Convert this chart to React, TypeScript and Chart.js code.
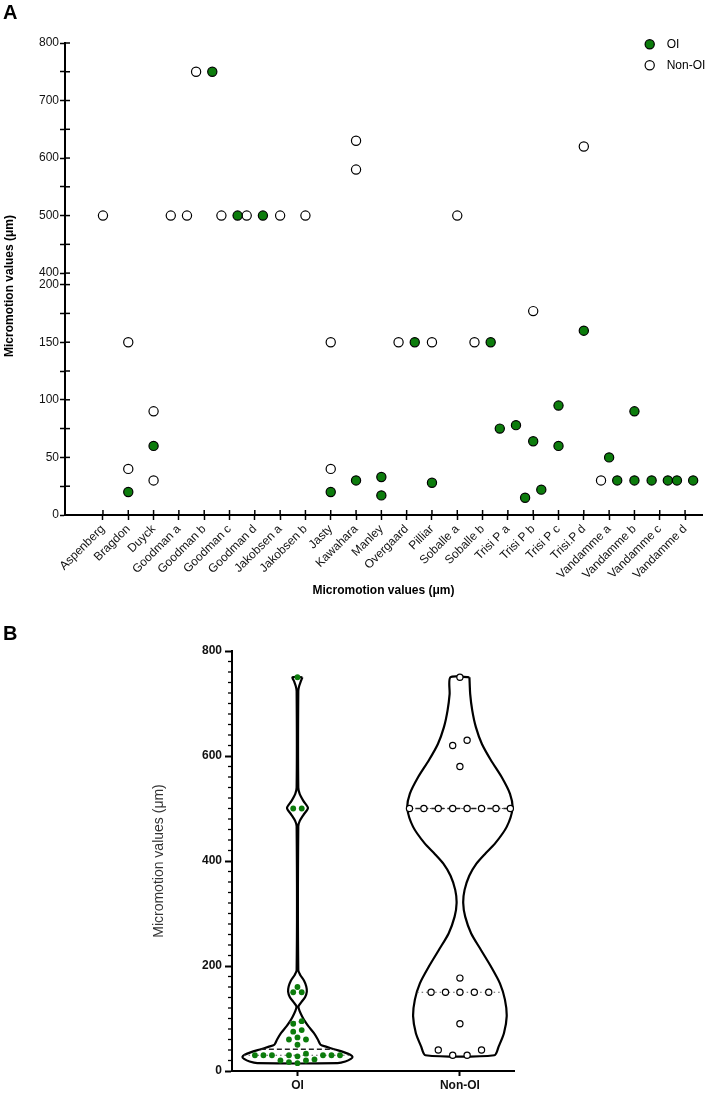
import React, { useEffect, useRef } from 'react';
import { Chart, registerables } from 'chart.js';

Chart.register(...registerables);

const FONT = "'Liberation Sans', Arial, Helvetica, sans-serif";
Chart.defaults.font.family = FONT;

const GREEN = '#0c7c0c';

// ---------------- Panel A data ----------------
const categories = [
  'Aspenberg', 'Bragdon', 'Duyck', 'Goodman a', 'Goodman b', 'Goodman c', 'Goodman d',
  'Jakobsen a', 'Jakobsen b', 'Jasty', 'Kawahara', 'Manley', 'Overgaard', 'Pilliar',
  'Soballe a', 'Soballe b', 'Trisi P a', 'Trisi P b', 'Trisi P c', 'Trisi.P d',
  'Vandamme a', 'Vandamme b', 'Vandamme c', 'Vandamme d',
];

const oiValues: number[][] = [
  [], [20], [60], [], [750], [500], [500],
  [], [], [20], [30], [33, 17], [150], [28],
  [], [150], [75, 78], [64, 15, 22], [95, 60], [160],
  [50, 30], [90, 30], [30, 30], [30, 30],
];

const nonOiValues: number[][] = [
  [500], [150, 40], [90, 30], [500, 500], [750], [500], [500],
  [500], [500], [150, 40], [630, 580], [], [150], [150],
  [500], [150], [], [177], [], [620],
  [30], [], [], [],
];

const lowAxisTicks = [0, 25, 50, 75, 100, 125, 150, 175, 200];
const lowAxisLabels = ['0', '', '50', '', '100', '', '150', '', '200'];
const highAxisTicks = [400, 450, 500, 550, 600, 650, 700, 750, 800];
const highAxisLabels = ['400', '', '500', '', '600', '', '700', '', '800'];

// ---------------- Panel B data ----------------
const groupLabels = ['OI', 'Non-OI'];
const violinLabelTicks = [0, 200, 400, 600, 800];

// [value, relative half-width]
const oiViolinProfile: [number, number][] = [
  [750, 0.09], [742, 0.06], [733, 0.03], [724, 0.015], [540, 0.015], [528, 0.04],
  [514, 0.11], [501, 0.19], [488, 0.11], [476, 0.04], [466, 0.015], [192, 0.015],
  [183, 0.05], [172, 0.12], [161, 0.16], [151, 0.17], [141, 0.14], [131, 0.07],
  [123, 0.018], [114, 0.04], [104, 0.085], [94, 0.14], [85, 0.2], [72, 0.3],
  [60, 0.37], [50, 0.42], [46, 0.53], [41, 0.68], [36, 0.84], [31, 0.96],
  [27, 1.0], [23, 0.97], [18, 0.87], [15, 0.73],
];

const nonOiViolinProfile: [number, number][] = [
  [750, 0.173], [718, 0.187], [687, 0.224], [655, 0.29], [623, 0.4], [592, 0.564],
  [560, 0.758], [528, 0.91], [500, 0.955], [465, 0.85], [433, 0.636], [414, 0.46],
  [395, 0.3], [372, 0.17], [345, 0.085], [320, 0.06], [294, 0.096], [262, 0.205],
  [231, 0.38], [199, 0.564], [167, 0.727], [136, 0.818], [104, 0.85], [72, 0.8],
  [47, 0.705], [30, 0.627],
];

// ---------------- layout constants ----------------
const A_W = 708;
const A_H = 605;
const B_TOP = 620;
const B_H = 477;
const JITTER = 0.32;
const B_X_PX = 162.3; // px per x unit in panel B
const B_Y_PX = 0.526; // px per value unit in panel B
const VIOLIN_HALF = 55 / B_X_PX;

// ---------- helpers ----------
function pxA(v: number) {
  return v >= 300 ? 230.3 + (v - 380) * 0.575 : v * 1.1515;
}

function buildPanelAPoints() {
  const oiLow: any[] = [], oiHigh: any[] = [], nonLow: any[] = [], nonHigh: any[] = [];
  categories.forEach((_, i) => {
    const items = [
      ...nonOiValues[i].map((v) => ({ v, s: 'non' })),
      ...oiValues[i].map((v) => ({ v, s: 'oi' })),
    ];
    const clusters: { v: number; s: string }[][] = [];
    items.forEach((it) => {
      const c = clusters.find((cl) => cl.some((m) => Math.abs(pxA(m.v) - pxA(it.v)) < 10));
      if (c) c.push(it);
      else clusters.push([it]);
    });
    clusters.forEach((cl) => {
      const n = cl.length;
      cl.forEach((it, k) => {
        const off = n === 1 ? 0 : -JITTER + (k * 2 * JITTER) / (n - 1);
        const p = { x: i + off, y: it.v };
        if (it.s === 'oi') (it.v >= 300 ? oiHigh : oiLow).push(p);
        else (it.v >= 300 ? nonHigh : nonLow).push(p);
      });
    });
  });
  return { oiLow, oiHigh, nonLow, nonHigh };
}

function beeswarm(values: number[], binSize: number, slotPx: number, minDistPx: number) {
  const sorted = [...values].sort((a, b) => a - b);
  const bins: number[][] = [];
  for (const v of sorted) {
    const last = bins[bins.length - 1];
    if (last && v - last[0] <= binSize) last.push(v);
    else bins.push([v]);
  }
  const placed: { dx: number; dy: number; v: number }[] = [];
  for (const bin of bins) {
    const n = bin.length;
    const cands: number[] = [];
    if (n % 2 === 1) {
      cands.push(0);
      for (let k = 1; k < 40; k++) cands.push(-k * slotPx, k * slotPx);
    } else {
      for (let k = 0; k < 40; k++) cands.push(-(k + 0.5) * slotPx, (k + 0.5) * slotPx);
    }
    for (const v of bin) {
      const dy = v * B_Y_PX;
      for (const dx of cands) {
        if (placed.every((p) => Math.hypot(p.dx - dx, p.dy - dy) >= minDistPx)) {
          placed.push({ dx, dy, v });
          break;
        }
      }
    }
  }
  return placed;
}

function quantile(values: number[], p: number) {
  const s = [...values].sort((a, b) => a - b);
  const n = s.length;
  const pos = (n + 1) * p;
  const lo = Math.floor(pos);
  const frac = pos - lo;
  if (lo < 1) return s[0];
  if (lo >= n) return s[n - 1];
  return s[lo - 1] + frac * (s[lo] - s[lo - 1]);
}

function widthAt(profile: [number, number][], v: number) {
  const s = [...profile].sort((a, b) => a[0] - b[0]);
  if (v <= s[0][0]) return s[0][1];
  for (let i = 1; i < s.length; i++) {
    if (v <= s[i][0]) {
      const t = (v - s[i - 1][0]) / (s[i][0] - s[i - 1][0]);
      return s[i - 1][1] + t * (s[i][1] - s[i - 1][1]);
    }
  }
  return s[s.length - 1][1];
}

function violinOutline(center: number, profile: [number, number][]) {
  const sorted = [...profile].sort((a, b) => b[0] - a[0]);
  const right = sorted.map(([v, w]) => ({ x: center + w * VIOLIN_HALF, y: v }));
  const left = [...sorted].reverse().map(([v, w]) => ({ x: center - w * VIOLIN_HALF, y: v }));
  return [...right, ...left, right[0]];
}

// ---------------- Panel A ----------------
const panelAExtras = {
  id: 'panelAExtras',
  afterDraw(chart: any) {
    const { ctx, chartArea, scales } = chart;
    ctx.save();
    ctx.strokeStyle = '#000';
    ctx.lineWidth = 1.5;
    const xs = scales.x;
    xs.ticks.forEach((t: any) => {
      const px = xs.getPixelForValue(t.value);
      ctx.beginPath();
      ctx.moveTo(px, xs.top);
      ctx.lineTo(px, xs.top - 5);
      ctx.stroke();
    });
    [scales.y, scales.y2].forEach((s: any) => {
      s.ticks.forEach((t: any) => {
        const py = s.getPixelForValue(t.value);
        ctx.beginPath();
        ctx.moveTo(s.right, py);
        ctx.lineTo(s.right + 5, py);
        ctx.stroke();
      });
    });
    // y axis title
    ctx.font = `bold 12px ${FONT}`;
    ctx.fillStyle = '#000';
    ctx.textAlign = 'center';
    ctx.textBaseline = 'middle';
    ctx.save();
    ctx.translate(10, (chartArea.top + chartArea.bottom) / 2 + 7);
    ctx.rotate(-Math.PI / 2);
    ctx.fillText('Micromotion values (μm)', 0, 0);
    ctx.restore();
    // legend
    const items = [
      { label: 'OI', fill: GREEN },
      { label: 'Non-OI', fill: '#ffffff' },
    ];
    ctx.font = `12px ${FONT}`;
    ctx.textAlign = 'left';
    items.forEach((it, i) => {
      const cx = chartArea.right - 52.3;
      const cy = chartArea.top + 1.3 + i * 21;
      ctx.beginPath();
      ctx.arc(cx, cy, 4.6, 0, Math.PI * 2);
      ctx.fillStyle = it.fill;
      ctx.fill();
      ctx.lineWidth = 1.2;
      ctx.strokeStyle = '#000';
      ctx.stroke();
      ctx.fillStyle = '#000';
      ctx.fillText(it.label, cx + 17, cy + 0.5);
    });
    ctx.restore();
  },
};

function PanelA() {
  const ref = useRef<HTMLCanvasElement>(null);
  useEffect(() => {
    const pts = buildPanelAPoints();
    const dot = (fill: string) => ({
      backgroundColor: fill,
      borderColor: '#000',
      borderWidth: 1.2,
      pointRadius: 4.6,
    });
    const yCommon = {
      type: 'linear' as const,
      position: 'left' as const,
      stack: 'yaxis',
      afterFit: (s: any) => {
        s.width = 43;
      },
      grid: { drawOnChartArea: false, drawTicks: true, tickLength: 5, tickColor: '#000', tickWidth: 1.5 },
      border: { display: true, color: '#000', width: 2 },
    };
    const chart = new Chart(ref.current as HTMLCanvasElement, {
      type: 'scatter',
      data: {
        datasets: [
          { label: 'OI', data: pts.oiLow, yAxisID: 'y', ...dot(GREEN) },
          { label: 'OI', data: pts.oiHigh, yAxisID: 'y2', ...dot(GREEN) },
          { label: 'Non-OI', data: pts.nonLow, yAxisID: 'y', ...dot('#ffffff') },
          { label: 'Non-OI', data: pts.nonHigh, yAxisID: 'y2', ...dot('#ffffff') },
        ],
      },
      options: {
        responsive: false,
        animation: false,
        events: [],
        layout: { padding: { left: 22, right: 6, top: 43, bottom: 0 } },
        plugins: { legend: { display: false }, tooltip: { enabled: false } },
        scales: {
          x: {
            type: 'linear',
            position: 'bottom',
            min: -1.5,
            max: 23.67,
            afterBuildTicks: (s: any) => {
              s.ticks = categories.map((_, i) => ({ value: i }));
            },
            afterFit: (s: any) => {
              s.height = 90;
            },
            ticks: {
              autoSkip: false,
              minRotation: 45,
              maxRotation: 45,
              padding: 2,
              color: '#111',
              font: { size: 12, family: FONT },
              callback: (v: any) => categories[v] ?? '',
            },
            grid: { drawOnChartArea: false, drawTicks: true, tickLength: 5, tickColor: '#000', tickWidth: 1.5 },
            border: { display: true, color: '#000', width: 2 },
            title: {
              display: true,
              text: 'Micromotion values (μm)',
              color: '#000',
              font: { size: 12, weight: 'bold', family: FONT },
              padding: { top: 0, bottom: 7 },
            },
          },
          y: {
            ...yCommon,
            min: 0,
            max: 200,
            stackWeight: 230.3,
            afterBuildTicks: (s: any) => {
              s.ticks = lowAxisTicks.map((v) => ({ value: v }));
            },
            ticks: {
              autoSkip: false,
              padding: 1,
              color: '#111',
              font: { size: 12, family: FONT },
              callback: (v: any) => lowAxisLabels[lowAxisTicks.indexOf(v)] ?? '',
            },
          },
          y2: {
            ...yCommon,
            min: 380,
            max: 800,
            stackWeight: 241.5,
            afterBuildTicks: (s: any) => {
              s.ticks = highAxisTicks.map((v) => ({ value: v }));
            },
            ticks: {
              autoSkip: false,
              padding: 1,
              color: '#111',
              font: { size: 12, family: FONT },
              callback: (v: any) => highAxisLabels[highAxisTicks.indexOf(v)] ?? '',
            },
          },
        } as any,
      },
      plugins: [panelAExtras],
    });
    return () => chart.destroy();
  }, []);
  return (
    <canvas
      ref={ref}
      width={A_W}
      height={A_H}
      style={{ position: 'absolute', left: 0, top: 0, width: A_W, height: A_H }}
    />
  );
}

// ---------------- Panel B ----------------
const panelBExtras = {
  id: 'panelBExtras',
  afterDraw(chart: any) {
    const { ctx, scales } = chart;
    const ys = scales.y;
    ctx.save();
    ctx.strokeStyle = '#000';
    ctx.lineWidth = 1.3;
    ys.ticks.forEach((t: any) => {
      if (t.value % 200 === 0) return;
      const py = ys.getPixelForValue(t.value);
      ctx.beginPath();
      ctx.moveTo(ys.right - 4, py);
      ctx.lineTo(ys.right, py);
      ctx.stroke();
    });
    ctx.restore();
  },
};

function PanelB() {
  const ref = useRef<HTMLCanvasElement>(null);
  useEffect(() => {
    const oiAll = oiValues.flat();
    const nonAll = nonOiValues.flat();
    const oiSwarm = beeswarm(oiAll, 8, 8.5, 6.5).map((p) => ({ x: 0 + p.dx / B_X_PX, y: p.v }));
    const nonSwarm = beeswarm(nonAll, 13, 14.4, 7.5).map((p) => ({ x: 1 + p.dx / B_X_PX, y: p.v }));

    const qLine = (center: number, profile: [number, number][], q: number, dash: number[], color: string, w: number) => {
      const hw = widthAt(profile, q) * VIOLIN_HALF;
      return {
        data: [
          { x: center - hw, y: q },
          { x: center + hw, y: q },
        ],
        showLine: true,
        borderColor: color,
        borderWidth: w,
        borderDash: dash,
        pointRadius: 0,
        fill: false,
      };
    };
    const stats = (vals: number[]) => [quantile(vals, 0.5), quantile(vals, 0.25), quantile(vals, 0.75)];
    const [oiMed, oiQ1, oiQ3] = stats(oiAll);
    const [nonMed, nonQ1, nonQ3] = stats(nonAll);

    const outline = (center: number, profile: [number, number][]) => ({
      data: violinOutline(center, profile),
      showLine: true,
      borderColor: '#000',
      borderWidth: 2.2,
      pointRadius: 0,
      tension: 0.25,
      fill: false,
    });

    const yTicks: number[] = [];
    for (let v = 0; v <= 800; v += 20) yTicks.push(v);

    const chart = new Chart(ref.current as HTMLCanvasElement, {
      type: 'scatter',
      data: {
        datasets: [
          {
            label: 'OI',
            data: oiSwarm,
            backgroundColor: GREEN,
            borderColor: GREEN,
            borderWidth: 0,
            pointRadius: 2.9,
          },
          {
            label: 'Non-OI',
            data: nonSwarm,
            backgroundColor: '#ffffff',
            borderColor: '#000',
            borderWidth: 1.2,
            pointRadius: 3.1,
          },
          qLine(0, oiViolinProfile, oiMed, [5, 3], '#222', 1.6),
          qLine(0, oiViolinProfile, oiQ1, [1.5, 3], '#555', 1.2),
          qLine(0, oiViolinProfile, oiQ3, [1.5, 3], '#555', 1.2),
          qLine(1, nonOiViolinProfile, nonMed, [5, 3], '#222', 1.6),
          qLine(1, nonOiViolinProfile, nonQ1, [1.5, 3], '#555', 1.2),
          qLine(1, nonOiViolinProfile, nonQ3, [1.5, 3], '#555', 1.2),
          outline(0, oiViolinProfile),
          outline(1, nonOiViolinProfile),
        ] as any,
      },
      options: {
        responsive: false,
        animation: false,
        events: [],
        layout: { padding: { left: 151, right: 194, top: 31, bottom: 0 } },
        plugins: { legend: { display: false }, tooltip: { enabled: false } },
        scales: {
          x: {
            type: 'linear',
            min: -0.403,
            max: 1.333,
            afterBuildTicks: (s: any) => {
              s.ticks = groupLabels.map((_, i) => ({ value: i }));
            },
            afterFit: (s: any) => {
              s.height = 26;
            },
            ticks: {
              autoSkip: false,
              maxRotation: 0,
              padding: 2,
              color: '#111',
              font: { size: 12, weight: 'bold', family: FONT },
              callback: (v: any) => groupLabels[v] ?? '',
            },
            grid: { drawOnChartArea: false, tickLength: 5, tickColor: '#000', tickWidth: 2 },
            border: { display: true, color: '#000', width: 2 },
          },
          y: {
            type: 'linear',
            min: 0,
            max: 800,
            afterBuildTicks: (s: any) => {
              s.ticks = yTicks.map((v) => ({ value: v }));
            },
            afterFit: (s: any) => {
              s.width = 81;
            },
            ticks: {
              autoSkip: false,
              padding: 3,
              color: '#111',
              font: { size: 12, weight: 'bold', family: FONT },
              callback: (v: any) => (violinLabelTicks.includes(v) ? String(v) : ''),
            },
            grid: {
              drawOnChartArea: false,
              tickLength: 7,
              tickWidth: 2,
              tickColor: (c: any) => (c.tick && c.tick.value % 200 === 0 ? '#000' : 'rgba(0,0,0,0)'),
            },
            border: { display: true, color: '#000', width: 2 },
            title: {
              display: true,
              text: 'Micromotion values (μm)',
              color: '#333',
              font: { size: 14, family: FONT },
              padding: { top: 0, bottom: 0 },
            },
          },
        } as any,
      },
      plugins: [panelBExtras],
    });
    return () => chart.destroy();
  }, []);
  return (
    <canvas
      ref={ref}
      width={A_W}
      height={B_H}
      style={{ position: 'absolute', left: 0, top: B_TOP, width: A_W, height: B_H }}
    />
  );
}

export default function App() {
  const letter: React.CSSProperties = {
    position: 'absolute',
    left: 3,
    fontFamily: FONT,
    fontWeight: 'bold',
    fontSize: 20,
    lineHeight: '20px',
    color: '#000',
  };
  return (
    <div style={{ position: 'absolute', left: 0, top: 0, width: 708, height: 1097, background: '#fff', overflow: 'hidden' }}>
      <PanelA />
      <PanelB />
      <div style={{ ...letter, top: 2 }}>A</div>
      <div style={{ ...letter, top: 623 }}>B</div>
    </div>
  );
}
